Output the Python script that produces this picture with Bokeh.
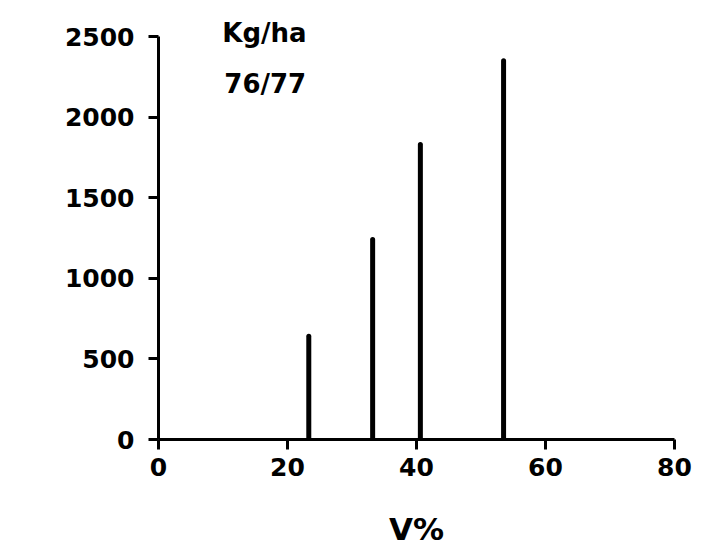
from bokeh.plotting import figure
from bokeh.models import Range1d, FixedTicker, Label, ColumnDataSource
from bokeh.embed import file_html
from bokeh.resources import INLINE

# Data
v_percent = [23.3, 33.2, 40.6, 53.5]
yield_kg_ha = [640, 1240, 1830, 2350]
x_ticks = [0, 20, 40, 60, 80]
y_ticks = [0, 500, 1000, 1500, 2000, 2500]
title_lines = ["Kg/ha", "76/77"]
x_label = "V%"

FONT = "DejaVu Sans"

src = ColumnDataSource(dict(x=v_percent, y0=[0] * len(v_percent), y1=yield_kg_ha))

# frame spans full height above the x axis; 2500 sits 36px below the top
Y_TOP = 2500 * 439 / 403

p = figure(width=712, height=556, output_backend="svg", toolbar_location=None,
           x_range=Range1d(0, 80), y_range=Range1d(0, Y_TOP),
           min_border_left=158, min_border_right=38, min_border_top=0,
           min_border_bottom=117)
p.outline_line_color = None
p.grid.visible = False
p.background_fill_color = "white"
p.border_fill_color = "white"

p.segment(x0="x", y0="y0", x1="x", y1="y1", source=src, line_width=5,
          line_color="black", line_cap="round")

for ax in (p.xaxis, p.yaxis):
    ax.axis_line_width = 3
    ax.axis_line_color = "black"
    ax.major_tick_line_width = 3
    ax.major_tick_line_color = "black"
    ax.minor_tick_line_color = None
    ax.major_tick_in = 0
    ax.major_tick_out = 10
    ax.major_label_text_font = FONT
    ax.major_label_text_font_style = "bold"
    ax.major_label_text_font_size = "25px"
    ax.major_label_text_color = "black"

p.xaxis.ticker = FixedTicker(ticks=x_ticks)
p.yaxis.ticker = FixedTicker(ticks=y_ticks)
p.yaxis.bounds = (0, 2500)
p.xaxis.bounds = (0, 80)
p.xaxis.major_label_standoff = 8
p.yaxis.major_label_standoff = 14

p.xaxis.axis_label = x_label
p.xaxis.axis_label_text_font = FONT
p.xaxis.axis_label_text_font_style = "bold"
p.xaxis.axis_label_text_font_size = "31px"
p.xaxis.axis_label_text_color = "black"
p.xaxis.axis_label_standoff = 32

# title lines placed in data coordinates near top-left of the frame
p.add_layout(Label(x=9.9, y=2519, text=title_lines[0], text_font=FONT,
                   text_font_style="bold", text_font_size="26px",
                   text_baseline="alphabetic", text_color="black"))
p.add_layout(Label(x=10.2, y=2208, text=title_lines[1], text_font=FONT,
                   text_font_style="bold", text_font_size="26px",
                   text_baseline="alphabetic", text_color="black"))

open("out.html", "w").write(file_html(p, INLINE))
